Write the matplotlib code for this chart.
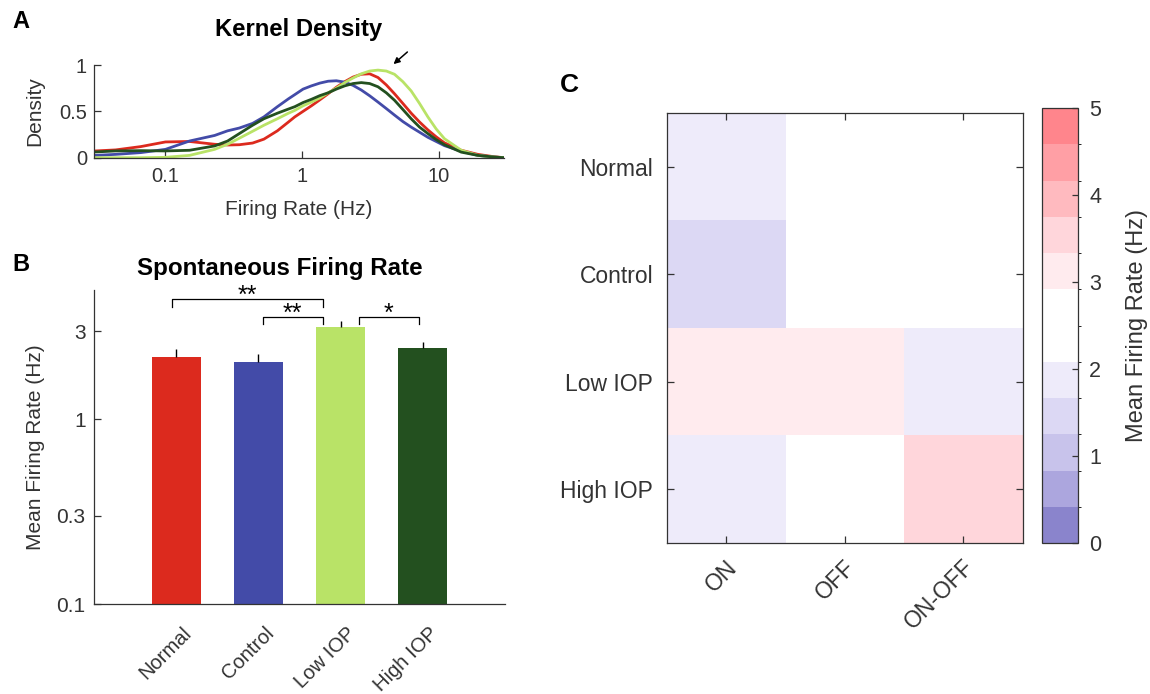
import numpy as np
import matplotlib
matplotlib.use("Agg")
import matplotlib.pyplot as plt
from matplotlib.colors import ListedColormap, BoundaryNorm
from matplotlib.transforms import ScaledTranslation

plt.rcParams['font.family'] = ['Liberation Sans', 'DejaVu Sans']

# ---------------- data ----------------
# Panel A: kernel density curves
kde_x = [0.0309, 0.0432, 0.0661, 0.100, 0.150, 0.229, 0.285, 0.347, 0.434, 0.525,
         0.659, 0.794, 0.883, 1.016, 1.17, 1.35, 1.55, 1.78, 2.05, 2.36, 2.71,
         3.12, 3.59, 4.13, 4.74, 5.46, 6.28, 7.23, 8.32, 9.57, 11.0, 14.6, 19.3,
         25.5, 30.1]
kde_normal = [0.073, 0.084, 0.12, 0.17, 0.175, 0.145, 0.137, 0.14, 0.158, 0.20,
              0.29, 0.385, 0.44, 0.50, 0.56, 0.625, 0.69, 0.76, 0.82, 0.87, 0.90,
              0.905, 0.865, 0.785, 0.69, 0.585, 0.48, 0.385, 0.30, 0.225, 0.16,
              0.08, 0.036, 0.01, 0.0]
kde_control = [0.025, 0.036, 0.055, 0.09, 0.18, 0.24, 0.29, 0.32, 0.37, 0.44,
               0.55, 0.635, 0.68, 0.74, 0.775, 0.805, 0.825, 0.83, 0.815, 0.78,
               0.73, 0.668, 0.60, 0.53, 0.46, 0.39, 0.33, 0.275, 0.22, 0.175,
               0.13, 0.07, 0.025, 0.007, 0.0]
kde_low = [0.0, 0.0, 0.0, 0.004, 0.025, 0.09, 0.145, 0.21, 0.285, 0.35,
           0.42, 0.48, 0.51, 0.56, 0.60, 0.645, 0.70, 0.75, 0.81, 0.86, 0.905,
           0.935, 0.945, 0.935, 0.90, 0.82, 0.72, 0.585, 0.44, 0.31, 0.205, 0.08,
           0.025, 0.007, 0.0]
kde_high = [0.062, 0.073, 0.076, 0.073, 0.08, 0.127, 0.18, 0.26, 0.35, 0.42,
            0.48, 0.525, 0.55, 0.595, 0.63, 0.67, 0.70, 0.74, 0.775, 0.80, 0.81,
            0.80, 0.765, 0.70, 0.62, 0.52, 0.42, 0.33, 0.26, 0.195, 0.14, 0.06,
            0.025, 0.007, 0.0]

# Panel B: spontaneous firing rate
groups = ['Normal', 'Control', 'Low IOP', 'High IOP']
mean_rate = [2.16, 2.03, 3.14, 2.42]
sem_rate = [0.25, 0.22, 0.25, 0.19]
# significance brackets: (x_left, x_right, y_top, y_drop, label)
sig_x1 = [0.95, 2.05, 3.22]
sig_x2 = [2.78, 2.78, 3.95]
sig_ytop = [4.45, 3.56, 3.56]
sig_ydrop = [4.03, 3.26, 3.26]
sig_label = ['**', '**', '*']

# Panel C: heatmap of mean firing rate
cell_types = ['ON', 'OFF', 'ON-OFF']
heat_rows = ['Normal', 'Control', 'Low IOP', 'High IOP']
heat_vals = [[1.9, 2.5, 2.5],
             [1.5, 2.6, 2.4],
             [3.1, 3.1, 1.9],
             [1.9, 2.5, 3.5]]
cbar_ticks = [0, 1, 2, 3, 4, 5]

# ---------------- style ----------------
c_normal = '#DC2A1E'
c_control = '#434BA8'
c_low = '#B9E367'
c_high = '#23501F'
bar_colors = [c_normal, c_control, c_low, c_high]
axcol = '#333333'
W, H = 1150, 694

fig = plt.figure(figsize=(W / 100, H / 100), dpi=100)

def rect(l, r, t, b):
    return [l / W, (H - b) / H, (r - l) / W, (b - t) / H]

def style_axes(ax, fs):
    for s in ax.spines.values():
        s.set_color(axcol)
        s.set_linewidth(0.9)
    ax.tick_params(colors=axcol, labelcolor=axcol, labelsize=fs, direction='in',
                   width=0.9, length=5)

# ---------------- Panel A ----------------
axA = fig.add_axes(rect(94, 504, 65, 157.7))
axA.plot(kde_x, kde_normal, color=c_normal, lw=2.0)
axA.plot(kde_x, kde_control, color=c_control, lw=2.0)
axA.plot(kde_x, kde_low, color=c_low, lw=2.0)
axA.plot(kde_x, kde_high, color=c_high, lw=2.0)
axA.set_xscale('log')
axA.set_xlim(0.03, 30)
axA.set_ylim(0, 1)
axA.set_xticks([0.1, 1, 10])
axA.set_xticklabels(['0.1', '1', '10'])
axA.xaxis.set_minor_locator(matplotlib.ticker.NullLocator())
axA.set_yticks([0, 0.5, 1])
axA.set_yticklabels(['0', '0.5', '1'])
axA.spines['top'].set_visible(False)
axA.spines['right'].set_visible(False)
style_axes(axA, 14.5)
axA.tick_params(axis='x', pad=7)
axA.tick_params(axis='y', pad=5)
axA.set_xlabel('Firing Rate (Hz)', fontsize=15, color=axcol, labelpad=10)
axA.set_ylabel('Density', fontsize=15, color=axcol, labelpad=11)
axA.set_title('Kernel Density', fontsize=17.2, fontweight='bold', pad=21)
axA.annotate('', xy=(4.5, 0.99), xytext=(6.1, 1.16), xycoords='data',
             arrowprops=dict(arrowstyle='-|>', color='black', lw=1.1,
                             mutation_scale=9),
             annotation_clip=False)
fig.text(12 / W, 1 - 21 / H, 'A', fontsize=17, fontweight='bold', va='center')

# ---------------- Panel B ----------------
axB = fig.add_axes(rect(94, 505, 290, 604))
xpos = np.arange(1, len(groups) + 1)
axB.bar(xpos, mean_rate, width=0.6, color=bar_colors, bottom=0.001, zorder=2)
axB.vlines(xpos, mean_rate, np.array(mean_rate) + np.array(sem_rate),
           color='black', lw=1.0, zorder=3)
axB.set_yscale('log')
axB.set_ylim(0.1, 5)
axB.set_xlim(0, 5)
axB.set_yticks([0.1, 0.3, 1, 3])
axB.set_yticklabels(['0.1', '0.3', '1', '3'])
axB.yaxis.set_minor_locator(matplotlib.ticker.NullLocator())
axB.set_xticks(xpos)
axB.set_xticklabels(groups, rotation=45, ha='right', va='top')
axB.spines['top'].set_visible(False)
axB.spines['right'].set_visible(False)
style_axes(axB, 15)
axB.tick_params(axis='x', pad=14, length=3, labelsize=14.5)
axB.tick_params(axis='y', pad=6)
offB = ScaledTranslation(19 / 100, 0, fig.dpi_scale_trans)
for lab in axB.get_xticklabels():
    lab.set_transform(lab.get_transform() + offB)
axB.set_ylabel('Mean Firing Rate (Hz)', fontsize=15, color=axcol, labelpad=8)
axB.text(0.453, 1.07, 'Spontaneous Firing Rate', transform=axB.transAxes,
         fontsize=17.4, fontweight='bold', ha='center', va='center')
for x1, x2, yt, yd, lab in zip(sig_x1, sig_x2, sig_ytop, sig_ydrop, sig_label):
    axB.plot([x1, x1, x2, x2], [yd, yt, yt, yd], color='black', lw=0.9,
             clip_on=False)
    axB.annotate(lab, xy=((x1 + x2) / 2, yt), xytext=(0, -2.5),
                 textcoords='offset points', ha='center', va='baseline',
                 fontsize=18, annotation_clip=False)
fig.text(12 / W, 1 - 265 / H, 'B', fontsize=17, fontweight='bold', va='center')

# ---------------- Panel C ----------------
cmap_colors = ['#8A84CC', '#ACA6DE', '#C8C3EB', '#DCD8F4', '#EEEBFA', '#FFFFFF',
               '#FFFFFF', '#FFEBEE', '#FFD6DB', '#FFBABF', '#FF9FA5', '#FF858C']
cmap = ListedColormap(cmap_colors)
norm = BoundaryNorm(np.linspace(0, 5, len(cmap_colors) + 1), cmap.N)

axC = fig.add_axes(rect(667, 1022.5, 113, 543))
im = axC.imshow(np.array(heat_vals), cmap=cmap, norm=norm, aspect='auto',
                interpolation='nearest')
axC.set_xticks(np.arange(len(cell_types)))
axC.set_xticklabels(cell_types, rotation=45, ha='right', va='top')
axC.set_yticks(np.arange(len(heat_rows)))
axC.set_yticklabels(heat_rows)
style_axes(axC, 16.5)
axC.tick_params(top=True, right=True, length=5)
axC.tick_params(axis='x', pad=9)
axC.tick_params(axis='y', pad=10)
offC = ScaledTranslation(15 / 100, 0, fig.dpi_scale_trans)
for lab in axC.get_xticklabels():
    lab.set_transform(lab.get_transform() + offC)
fig.text(560 / W, 1 - 85 / H, 'C', fontsize=19, fontweight='bold', va='center')

cax = fig.add_axes(rect(1042, 1078, 108, 543))
cb = fig.colorbar(im, cax=cax, ticks=cbar_ticks)
cb.outline.set_edgecolor(axcol)
cb.outline.set_linewidth(0.9)
cax.tick_params(colors=axcol, labelcolor=axcol, labelsize=15.5, direction='in',
                length=4, width=0.9, pad=8)
cb.set_label('Mean Firing Rate (Hz)', fontsize=17, color=axcol, labelpad=18)

fig.savefig('out.png', dpi=100)
